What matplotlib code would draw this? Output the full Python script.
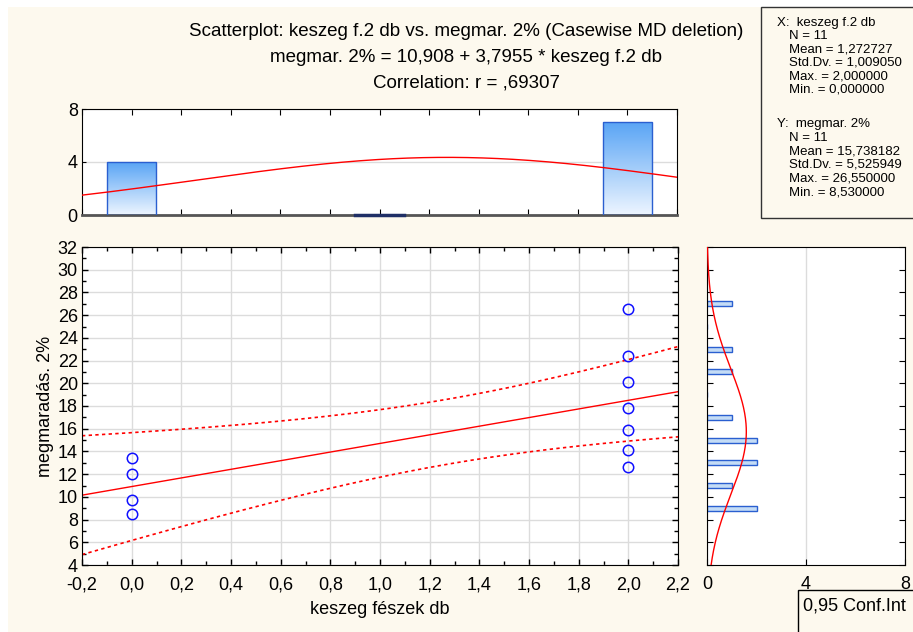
import numpy as np
import matplotlib
matplotlib.use('Agg')
import matplotlib.pyplot as plt
from matplotlib.patches import Rectangle
from matplotlib.ticker import MultipleLocator, FuncFormatter

plt.rcParams['font.family'] = ['Liberation Sans', 'DejaVu Sans']

# data
x_vals = [0, 0, 0, 0, 2, 2, 2, 2, 2, 2, 2]
y_vals = [13.4, 12.0, 9.7, 8.53, 26.55, 22.4, 20.1, 17.85, 15.9, 14.1, 12.6]

top_hist_centers = [0, 1, 2]
top_hist_counts = [4, 0, 7]
right_hist_centers = [9, 11, 13, 15, 17, 19, 21, 23, 25, 27]
right_hist_counts = [2, 1, 2, 2, 1, 0, 1, 1, 0, 1]

title_lines = ['Scatterplot: keszeg f.2 db vs. megmar. 2% (Casewise MD deletion)',
               'megmar. 2% = 10,908 + 3,7955 * keszeg f.2 db',
               'Correlation: r = ,69307']
stats_x = ['X:  keszeg f.2 db', 'N = 11', 'Mean = 1,272727', 'Std.Dv. = 1,009050',
           'Max. = 2,000000', 'Min. = 0,000000']
stats_y = ['Y:  megmar. 2%', 'N = 11', 'Mean = 15,738182', 'Std.Dv. = 5,525949',
           'Max. = 26,550000', 'Min. = 8,530000']

CREAM = '#fdf9ee'
W, H = 913, 632
FS = 13

x = np.array(x_vals, dtype=float)
y = np.array(y_vals, dtype=float)


def comma(v, pos):
    return ('%.1f' % v).replace('.', ',')


def fx(px):
    return px / W


def fy(py):
    return 1 - py / H


fig = plt.figure(figsize=(9.13, 6.32), dpi=100, facecolor='white')
fig.patches.append(Rectangle((fx(8), 0), 1, fy(7), transform=fig.transFigure,
                             facecolor=CREAM, edgecolor='none', zorder=-10))

# main scatter
ax = fig.add_axes([fx(82), fy(565), fx(678) - fx(82), fy(247) - fy(565)])
ax.set_xlim(-0.2, 2.2)
ax.set_ylim(4, 32)
ax.xaxis.set_major_locator(MultipleLocator(0.2))
ax.xaxis.set_minor_locator(MultipleLocator(0.1))
ax.yaxis.set_major_locator(MultipleLocator(2))
ax.yaxis.set_minor_locator(MultipleLocator(1))
ax.xaxis.set_major_formatter(FuncFormatter(comma))
ax.grid(True, which='major', color='#dcdcdc', lw=1)
ax.set_axisbelow(True)
ax.tick_params(which='both', direction='in', top=True, right=True, labelsize=FS, width=1)
ax.tick_params(which='major', length=4)
ax.tick_params(which='minor', length=3)
ax.tick_params(axis='x', pad=8)
ax.tick_params(axis='y', pad=3)

n = len(x)
b, a = np.polyfit(x, y, 1)
xx = np.linspace(-0.2, 2.2, 200)
fit = a + b * xx
resid = y - (a + b * x)
s = np.sqrt(np.sum(resid ** 2) / (n - 2))
sxx = np.sum((x - x.mean()) ** 2)
half = 2.262 * s * np.sqrt(1 / n + (xx - x.mean()) ** 2 / sxx)
ax.plot(xx, fit, color='red', lw=1)
ax.plot(xx, fit - half, color='red', lw=1.2, linestyle=(0, (2, 2)))
ax.plot(xx, fit + half, color='red', lw=1.2, linestyle=(0, (2, 2)))
ax.plot(x, y, 'o', mfc='none', mec='#1010ff', ms=7.5, mew=1.1)
ax.set_xlabel('keszeg fészek db', fontsize=FS, labelpad=6)
ax.set_ylabel('megmaradás. 2%', fontsize=FS, labelpad=3)

# top histogram
axt = fig.add_axes([fx(82), fy(215), fx(677) - fx(82), fy(109) - fy(215)])
axt.set_xlim(-0.2, 2.2)
axt.set_ylim(0, 8)
axt.set_yticks([0, 4, 8])
axt.xaxis.set_major_locator(MultipleLocator(0.2))
axt.tick_params(axis='x', direction='in', top=True, labelbottom=False, length=4)
axt.tick_params(axis='y', direction='in', length=3, labelsize=FS, pad=3)
axt.grid(True, axis='y', color='#dcdcdc', lw=1)
axt.set_axisbelow(True)
axt.spines['bottom'].set_color('#555555')
axt.spines['bottom'].set_linewidth(2)
grad = np.linspace(0, 1, 100).reshape(-1, 1)
cmap = matplotlib.colors.LinearSegmentedColormap.from_list('g', ['#edf5ff', '#5aa5f5'])
for c, h in zip(top_hist_centers, top_hist_counts):
    if h > 0:
        axt.imshow(grad, extent=(c - 0.1, c + 0.1, 0, h), origin='lower', cmap=cmap,
                   aspect='auto', zorder=2)
    axt.bar(c, h, width=0.2, facecolor='none', edgecolor='#2a5fd0', lw=1, zorder=3)
    if h == 0:
        axt.plot([c - 0.1, c + 0.1], [0, 0], color='#1f2f66', lw=2.5, zorder=4, clip_on=False)
axt.set_xlim(-0.2, 2.2)
axt.set_ylim(0, 8)
xs = np.linspace(-0.2, 2.2, 200)
mx, sx = x.mean(), x.std(ddof=1)
axt.plot(xs, n * 1.0 * np.exp(-(xs - mx) ** 2 / (2 * sx ** 2)) / (sx * np.sqrt(2 * np.pi)),
         color='red', lw=1, zorder=5)

# right histogram
axr = fig.add_axes([fx(707), fy(565), fx(905) - fx(707), fy(247) - fy(565)])
axr.set_xlim(0, 8)
axr.set_ylim(4, 32)
axr.set_xticks([0, 4, 8])
axr.yaxis.set_major_locator(MultipleLocator(2))
axr.tick_params(axis='y', direction='in', right=True, labelleft=False, length=4)
axr.tick_params(axis='x', direction='in', length=4, labelsize=FS, pad=8)
axr.grid(True, axis='x', color='#dcdcdc', lw=1)
axr.set_axisbelow(True)
axr.barh(right_hist_centers, right_hist_counts, height=0.45, color='#c4dcf6',
         edgecolor='#2a5fd0', lw=1, zorder=2)
ys = np.linspace(4, 32, 300)
my, sy = y.mean(), y.std(ddof=1)
axr.plot(n * 2.0 * np.exp(-(ys - my) ** 2 / (2 * sy ** 2)) / (sy * np.sqrt(2 * np.pi)), ys,
         color='red', lw=1, zorder=3)

# titles
for i, t in enumerate(title_lines):
    fig.text(fx(466), fy(32 + 25.5 * i), t, ha='center', va='center', fontsize=13.5)

# stats box
fig.patches.append(Rectangle((fx(761), fy(218)), 0.2, fy(7) - fy(218), transform=fig.transFigure,
                             facecolor=CREAM, edgecolor='#333333', lw=1))
for i, t in enumerate(stats_x):
    fig.text(fx(777 if i == 0 else 789), fy(23 + 13.3 * i), t, va='center', fontsize=9.5)
for i, t in enumerate(stats_y):
    fig.text(fx(777 if i == 0 else 789), fy(124 + 13.6 * i), t, va='center', fontsize=9.5)

# conf int legend box
fig.patches.append(Rectangle((fx(798), fy(640)), 0.2, fy(590) - fy(640), transform=fig.transFigure,
                             facecolor=CREAM, edgecolor='black', lw=1, zorder=10))
fig.text(fx(803), fy(606), '0,95 Conf.Int', va='center', fontsize=FS, zorder=11)

plt.savefig('out.png', dpi=100, facecolor=fig.get_facecolor())
plt.close()
